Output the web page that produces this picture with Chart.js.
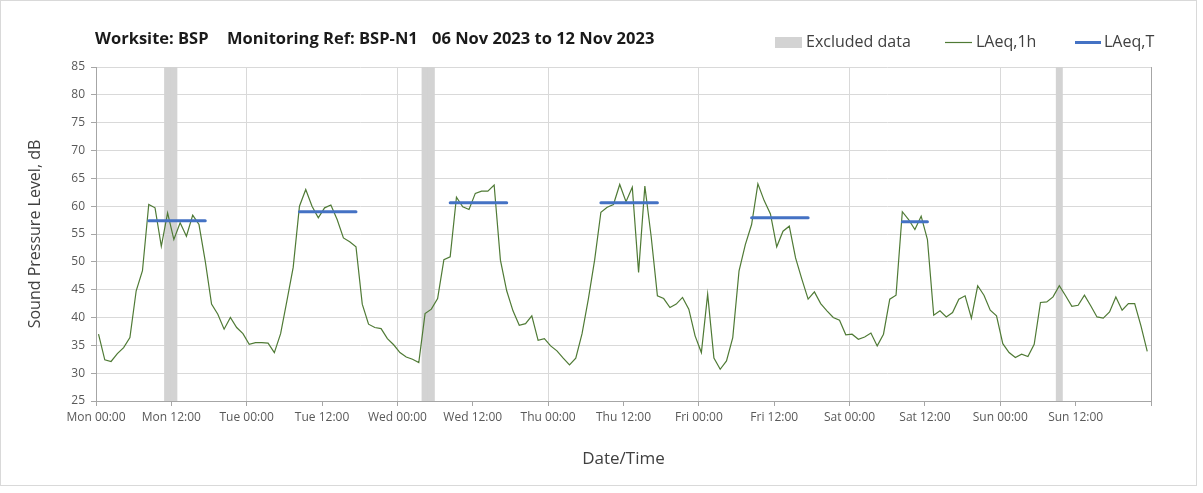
<!DOCTYPE html>
<html>
<head>
<meta charset="utf-8">
<script src="https://cdn.jsdelivr.net/npm/chart.js@4.4.0/dist/chart.umd.min.js"></script>
<style>
  html, body { margin: 0; padding: 0; background: #ffffff; }
  #wrap { position: relative; width: 1203px; height: 493px; }
</style>
</head>
<body>
<div id="wrap"><canvas id="c" width="1203" height="493"></canvas></div>
<script>
// ---------------- DATA ----------------
const tickLabels = ['Mon 00:00','Mon 12:00','Tue 00:00','Tue 12:00','Wed 00:00','Wed 12:00',
  'Thu 00:00','Thu 12:00','Fri 00:00','Fri 12:00','Sat 00:00','Sat 12:00','Sun 00:00','Sun 12:00'];

// hourly LAeq,1h values (dB), hour 0 = Mon 00:00
const laeq1h = [
  37.0, 32.4, 32.1, 33.5, 34.6, 36.4, 44.8, 48.4, 60.3, 59.7, 52.8, 58.8,
  54.0, 57.0, 54.6, 58.4, 56.7, 50.1, 42.4, 40.6, 37.9, 40.0, 38.2, 37.1,
  35.2, 35.5, 35.5, 35.4, 33.7, 37.1, 43.0, 49.0, 60.0, 63.0, 60.0, 57.9,
  59.7, 60.2, 57.6, 54.3, 53.6, 52.7, 42.4, 38.8, 38.2, 38.0, 36.2, 35.1,
  33.7, 32.9, 32.5, 31.9, 40.7, 41.5, 43.4, 50.4, 50.9, 61.6, 59.9, 59.4,
  62.3, 62.7, 62.7, 63.8, 50.3, 44.8, 41.2, 38.6, 38.9, 40.3, 35.9, 36.2,
  34.9, 34.0, 32.7, 31.5, 32.7, 37.1, 43.3, 50.3, 58.9, 59.8, 60.3, 63.9,
  60.8, 63.4, 48.1, 63.6, 54.6, 43.9, 43.4, 41.8, 42.4, 43.6, 41.5, 36.7,
  33.7, 44.2, 32.7, 30.7, 32.2, 36.4, 48.4, 53.1, 56.7, 64.0, 61.0, 58.6,
  52.7, 55.5, 56.4, 50.7, 46.9, 43.3, 44.6, 42.5, 41.2, 40.0, 39.5, 36.9,
  37.0, 36.1, 36.5, 37.2, 34.9, 37.0, 43.3, 44.0, 59.0, 57.6, 55.8, 58.2,
  54.0, 40.4, 41.2, 40.1, 40.9, 43.3, 43.9, 39.9, 45.7, 44.0, 41.3, 40.3,
  35.3, 33.7, 32.8, 33.4, 33.0, 35.2, 42.7, 42.8, 43.7, 45.7, 43.9, 42.0,
  42.2, 44.0, 42.1, 40.1, 39.9, 41.0, 43.7, 41.3, 42.5, 42.5, 38.5, 33.9
];

// excluded hours (hour index from Mon 00:00)
const excludedHours = [11, 12, 52, 53, 153];

// LAeq,T assessment periods (start hour, end hour) and levels
const periodStart = [8, 32, 56, 80, 104, 128];
const periodEnd   = [18, 42, 66, 90, 114, 133];
const laeqT       = [57.4, 59.0, 60.6, 60.6, 57.9, 57.2];

const titleParts = ['Worksite: BSP', 'Monitoring Ref: BSP-N1', '06 Nov 2023 to 12 Nov 2023'];

// ---------------- BUILD ----------------
const POINT_OFFSET = 0.4;   // sample plotted within its hour
const Y_MIN = 25, Y_MAX = 85;
const X_MAX = 168;

const lineData = laeq1h.map((v, i) => ({ x: i + POINT_OFFSET, y: v }));
const barData = excludedHours.map(h => ({ x: h + POINT_OFFSET, y: [Y_MIN, Y_MAX] }));
const tData = [];
periodStart.forEach((s, i) => {
  tData.push({ x: s + POINT_OFFSET, y: laeqT[i] });
  tData.push({ x: periodEnd[i] - 1 + POINT_OFFSET, y: laeqT[i] });
  tData.push({ x: periodEnd[i] + POINT_OFFSET, y: null });
});

const FONT = '"Open Sans", "DejaVu Sans", sans-serif';
const GREEN = '#4f7a35';
const BLUE = '#4472c4';
const GREY = '#d3d3d3';

const framePlugin = {
  id: 'frame',
  beforeDraw(chart) {
    const ctx = chart.ctx;
    ctx.save();
    ctx.fillStyle = '#ffffff';
    ctx.fillRect(0, 0, chart.width, chart.height);
    ctx.strokeStyle = '#d9d9d9';
    ctx.lineWidth = 1;
    ctx.strokeRect(0.5, 0.5, 1196, 485);
    ctx.restore();
  }
};

const headerPlugin = {
  id: 'header',
  afterDraw(chart) {
    const ctx = chart.ctx;
    ctx.save();
    ctx.textBaseline = 'middle';
    ctx.textAlign = 'left';
    ctx.fillStyle = '#1a1a1a';
    ctx.font = 'bold 16.5px ' + FONT;
    const tx = [95, 227, 432];
    titleParts.forEach((t, i) => ctx.fillText(t, tx[i], 39));

    const ds = chart.data.datasets;
    ctx.font = '16px ' + FONT;
    // Excluded data
    ctx.fillStyle = ds[0].backgroundColor;
    ctx.fillRect(775, 37, 27, 11);
    ctx.fillStyle = '#404040';
    ctx.fillText(ds[0].label, 806, 42);
    // LAeq,1h
    ctx.strokeStyle = ds[1].borderColor;
    ctx.lineWidth = 1.2;
    ctx.beginPath(); ctx.moveTo(945, 42.5); ctx.lineTo(972, 42.5); ctx.stroke();
    ctx.fillText(ds[1].label, 976, 42);
    // LAeq,T
    ctx.strokeStyle = ds[2].borderColor;
    ctx.lineWidth = 3;
    ctx.beginPath(); ctx.moveTo(1075, 42.5); ctx.lineTo(1101, 42.5); ctx.stroke();
    ctx.fillText(ds[2].label, 1104, 42);
    ctx.restore();
  }
};

new Chart(document.getElementById('c'), {
  type: 'line',
  data: {
    datasets: [
      {
        type: 'bar',
        label: 'Excluded data',
        data: barData,
        backgroundColor: GREY,
        borderWidth: 0,
        barPercentage: 1,
        categoryPercentage: 1,
        order: 3
      },
      {
        type: 'line',
        label: 'LAeq,1h',
        data: lineData,
        borderColor: GREEN,
        borderWidth: 1.2,
        pointRadius: 0,
        tension: 0,
        order: 2
      },
      {
        type: 'line',
        label: 'LAeq,T',
        data: tData,
        borderColor: BLUE,
        borderWidth: 3,
        borderCapStyle: 'round',
        pointRadius: 0,
        spanGaps: false,
        tension: 0,
        order: 1
      }
    ]
  },
  options: {
    responsive: false,
    devicePixelRatio: 1,
    animation: false,
    layout: { padding: { top: 67, right: 52, bottom: 24, left: 0 } },
    plugins: {
      legend: { display: false },
      title: { display: false },
      tooltip: { enabled: false }
    },
    scales: {
      x: {
        type: 'linear',
        min: 0,
        max: X_MAX,
        offset: false,
        afterBuildTicks: (scale) => {
          scale.ticks = tickLabels.map((_, i) => ({ value: i * 12 })).concat([{ value: X_MAX }]);
        },
        afterFit: (scale) => { scale.height = 68; },
        ticks: {
          autoSkip: false,
          maxRotation: 0,
          minRotation: 0,
          padding: 4,
          color: '#595959',
          font: { family: FONT, size: 12 },
          callback: (v) => (tickLabels[v / 12] !== undefined ? tickLabels[v / 12] : '')
        },
        grid: {
          offset: false,
          color: (c) => {
            const v = c.tick ? c.tick.value : 0;
            if (v === X_MAX) return '#a6a6a6';
            return v % 24 === 0 ? '#d9d9d9' : 'rgba(0,0,0,0)';
          },
          tickColor: '#a6a6a6',
          tickLength: 5,
          lineWidth: 1
        },
        border: { color: '#a6a6a6', width: 1 },
        title: {
          display: true,
          text: 'Date/Time',
          color: '#404040',
          font: { family: FONT, size: 17 },
          padding: { top: 0, bottom: 0 }
        }
      },
      y: {
        type: 'linear',
        min: Y_MIN,
        max: Y_MAX,
        afterFit: (scale) => { scale.width = 96; },
        ticks: {
          stepSize: 5,
          padding: 6,
          color: '#595959',
          font: { family: FONT, size: 12 }
        },
        grid: {
          color: '#d9d9d9',
          tickColor: '#a6a6a6',
          tickLength: 5,
          lineWidth: 1
        },
        border: { color: '#a6a6a6', width: 1 },
        title: {
          display: true,
          text: 'Sound Pressure Level, dB',
          color: '#404040',
          font: { family: FONT, size: 16 },
          padding: { top: 26, bottom: 0 }
        }
      }
    }
  },
  plugins: [framePlugin, headerPlugin]
});
</script>
</body>
</html>
